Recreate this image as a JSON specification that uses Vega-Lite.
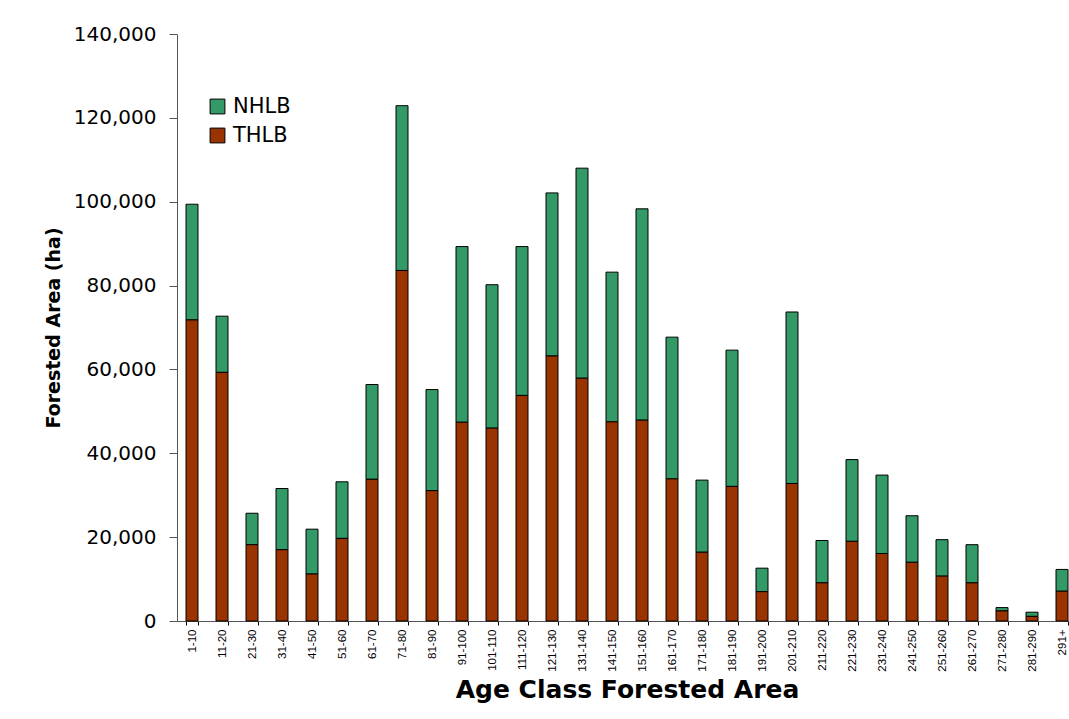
{
  "$schema": "https://vega.github.io/schema/vega-lite/v6.json",
  "autosize": {"type": "none"},
  "padding": {"left": 177, "top": 34, "right": 0, "bottom": 98},
  "width": 900,
  "height": 587,
  "background": "white",
  "config": {"view": {"stroke": null}},
  "data": {
    "values": [
      {"age": "1-10", "THLB": 71800, "NHLB": 27600},
      {"age": "11-20", "THLB": 59300, "NHLB": 13400},
      {"age": "21-30", "THLB": 18200, "NHLB": 7500},
      {"age": "31-40", "THLB": 17000, "NHLB": 14600},
      {"age": "41-50", "THLB": 11200, "NHLB": 10700},
      {"age": "51-60", "THLB": 19700, "NHLB": 13500},
      {"age": "61-70", "THLB": 33800, "NHLB": 22600},
      {"age": "71-80", "THLB": 83600, "NHLB": 39300},
      {"age": "81-90", "THLB": 31100, "NHLB": 24100},
      {"age": "91-100", "THLB": 47400, "NHLB": 41900},
      {"age": "101-110", "THLB": 46000, "NHLB": 34200},
      {"age": "111-120", "THLB": 53800, "NHLB": 35500},
      {"age": "121-130", "THLB": 63200, "NHLB": 38900},
      {"age": "131-140", "THLB": 57900, "NHLB": 50100},
      {"age": "141-150", "THLB": 47500, "NHLB": 35700},
      {"age": "151-160", "THLB": 47900, "NHLB": 50400},
      {"age": "161-170", "THLB": 33900, "NHLB": 33800},
      {"age": "171-180", "THLB": 16400, "NHLB": 17200},
      {"age": "181-190", "THLB": 32100, "NHLB": 32500},
      {"age": "191-200", "THLB": 7000, "NHLB": 5600},
      {"age": "201-210", "THLB": 32800, "NHLB": 40900},
      {"age": "211-220", "THLB": 9100, "NHLB": 10100},
      {"age": "221-230", "THLB": 19000, "NHLB": 19500},
      {"age": "231-240", "THLB": 16100, "NHLB": 18700},
      {"age": "241-250", "THLB": 14000, "NHLB": 11100},
      {"age": "251-260", "THLB": 10700, "NHLB": 8700},
      {"age": "261-270", "THLB": 9100, "NHLB": 9100},
      {"age": "271-280", "THLB": 2400, "NHLB": 800},
      {"age": "281-290", "THLB": 1100, "NHLB": 1000},
      {"age": "291+", "THLB": 7100, "NHLB": 5200}
    ]
  },
  "transform": [{"fold": ["NHLB", "THLB"], "as": ["series", "value"]}],
  "mark": {"type": "bar", "stroke": "#000000", "strokeWidth": 1},
  "encoding": {
    "x": {
      "field": "age",
      "type": "nominal",
      "sort": null,
      "scale": {"paddingInner": 0.6, "paddingOuter": 0.3},
      "axis": {
        "title": "Age Class Forested Area",
        "titleFont": "DejaVu Sans",
        "titleFontSize": 25,
        "titleFontWeight": "bold",
        "titleColor": "#000000",
        "titlePadding": 6,
        "labelAngle": -90,
        "labelFont": "Liberation Sans",
        "labelFontSize": 11.5,
        "labelColor": "#000000",
        "labelPadding": 4,
        "tickBand": "extent",
        "tickSize": 4,
        "tickColor": "#000000",
        "domainColor": "#555555",
        "grid": false
      }
    },
    "y": {
      "field": "value",
      "type": "quantitative",
      "stack": "zero",
      "scale": {"domain": [0, 140000], "nice": false},
      "axis": {
        "title": "Forested Area (ha)",
        "titleFont": "DejaVu Sans",
        "titleFontSize": 19,
        "titleFontWeight": "bold",
        "titleColor": "#000000",
        "titlePadding": 10,
        "values": [0, 20000, 40000, 60000, 80000, 100000, 120000, 140000],
        "format": ",.0f",
        "formatType": "number",
        "labelFont": "DejaVu Sans",
        "labelFontSize": 20,
        "labelColor": "#000000",
        "labelPadding": 13,
        "tickSize": 8,
        "tickColor": "#555555",
        "domainColor": "#555555",
        "grid": false
      }
    },
    "color": {
      "field": "series",
      "type": "nominal",
      "scale": {"domain": ["NHLB", "THLB"], "range": ["#339966", "#993300"]},
      "legend": {
        "title": null,
        "orient": "none",
        "legendX": 30,
        "legendY": 62,
        "symbolType": "square",
        "symbolSize": 220,
        "symbolStrokeColor": "#000000",
        "symbolStrokeWidth": 1,
        "symbolOpacity": 1,
        "labelFont": "DejaVu Sans",
        "labelFontSize": 21,
        "labelColor": "#000000",
        "labelOffset": 5,
        "rowPadding": 7,
        "padding": 0
      }
    },
    "order": {"field": "series", "sort": "descending"}
  }
}
